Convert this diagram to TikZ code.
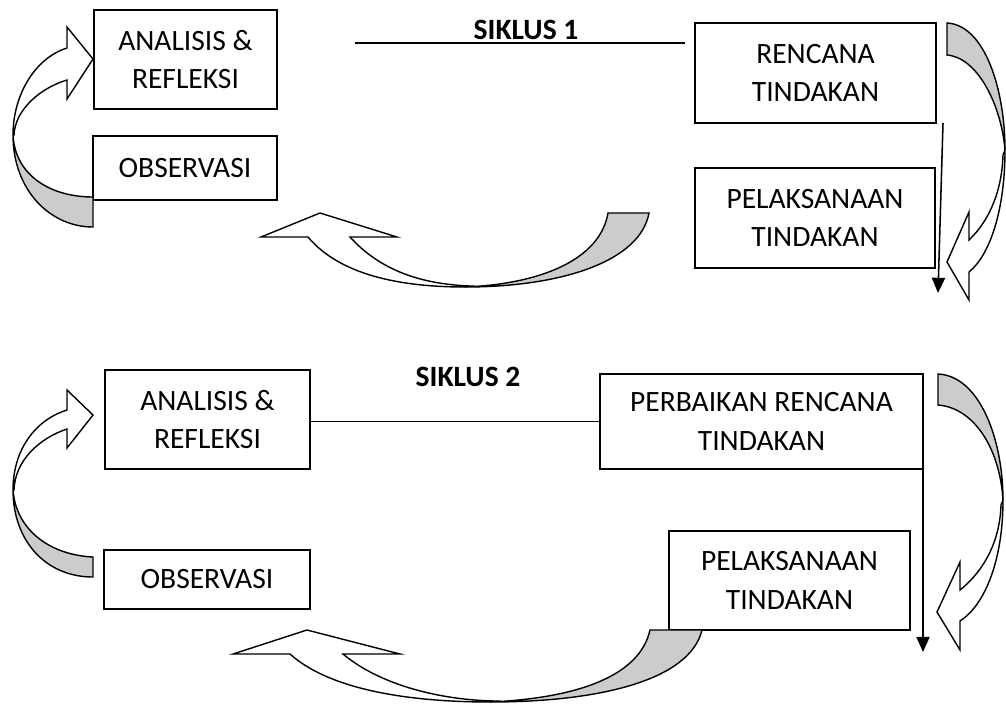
\documentclass[tikz,border=0pt]{standalone}
\usepackage{fontspec}
\setmainfont{Carlito}
\usetikzlibrary{arrows.meta}

\begin{document}
\begin{tikzpicture}[x=0.25mm, y=-0.25mm,
  every node/.style={font=\fontsize{21}{27.6}\selectfont, align=center, inner sep=0pt, outer sep=0pt},
  box/.style 2 args={draw, line width=1.1pt, minimum width=#1*0.25mm, minimum height=#2*0.25mm},
  band/.style={draw, line width=1pt, fill=white, line join=miter},
  back/.style={draw, line width=1pt, fill=gray!40, line join=miter},
  downarrow/.style={line width=1.1pt, -{Triangle[length=3.8mm,width=3.3mm]}}]
\useasboundingbox (0,0) rectangle (1006,704);

\node[box={183}{99}] (an1) at (185.5,59.5) {ANALISIS \&\\REFLEKSI};
\node[box={184}{64}] (ob1) at (185,168) {OBSERVASI};
\node[box={241}{100}] (rt1) at (815.5,73) {RENCANA\\TINDAKAN};
\node[box={240}{100}] (pt1) at (815,218) {PELAKSANAAN\\TINDAKAN};
\node[font=\fontsize{21}{27.6}\selectfont\bfseries, anchor=base] (s1) at (526,39) {SIKLUS 1};

\node[box={205}{99}] (an2) at (207.5,419.5) {ANALISIS \&\\REFLEKSI};
\node[box={206}{59}] (ob2) at (207,579.5) {OBSERVASI};
\node[box={323}{95}] (pr2) at (761.5,421.5) {PERBAIKAN RENCANA\\TINDAKAN};
\node[box={241}{99}] (pt2) at (789.5,580.5) {PELAKSANAAN\\TINDAKAN};
\node[font=\fontsize{21}{27.6}\selectfont\bfseries, anchor=base] (s2) at (468,386) {SIKLUS 2};

\coordinate (l1a) at (355,43);
\coordinate (l1b) at (685,43);
\draw[line width=1.1pt] (l1a) -- (l1b);
\draw[line width=1.1pt] (pr2.west -| an2.east) -- (pr2.west);

\coordinate (e1) at (938,293);
\draw[downarrow] (rt1.south east) ++(7,0) -- (e1);
\coordinate (e2) at (923,652);
\draw[downarrow] (pr2.east) ++(0,-19.5) -- (e2);

% siklus 1
\draw[back] (93,197) -- (93,227) .. controls (50,227) and (13,190) .. (13,135)
  .. controls (15,175) and (50,197) .. (93,197) -- cycle;
\draw[band] (13,135) .. controls (13,95) and (35,58) .. (67,48) -- (67,27) -- (93,59)
  -- (67,99) -- (67,80) .. controls (40,88) and (15,110) .. (14,135) -- cycle;

\draw[back] (947,23) .. controls (985,25) and (1005,90) .. (1005,150)
  .. controls (1002,110) and (980,58) .. (947,55) -- cycle;
\draw[band] (1005,150) .. controls (1005,210) and (990,255) .. (969,272) -- (969,300)
  -- (947,262) -- (969,212) -- (969,240) .. controls (990,220) and (1002,190) .. (1003,155) -- cycle;

\draw[back] (608,213) -- (649,213) .. controls (640,262) and (560,287) .. (465,287)
  .. controls (540,284) and (600,260) .. (608,213) -- cycle;
\draw[band] (465,287) .. controls (400,287) and (340,275) .. (308,237) -- (261,237)
  -- (320,213) -- (397,237) -- (350,237) .. controls (380,270) and (420,284) .. (470,286) -- cycle;

% siklus 2
\draw[back] (93,557) -- (93,577) .. controls (45,577) and (13,540) .. (13,490)
  .. controls (16,530) and (50,555) .. (93,557) -- cycle;
\draw[band] (13,490) .. controls (13,450) and (35,420) .. (67,410) -- (67,390) -- (93,415)
  -- (67,448) -- (67,429) .. controls (40,438) and (15,460) .. (14,490) -- cycle;

\draw[back] (938,374) .. controls (980,376) and (1003,440) .. (1003,500)
  .. controls (1000,450) and (975,408) .. (938,405) -- cycle;
\draw[band] (1003,500) .. controls (1003,560) and (985,605) .. (960,621) -- (960,650)
  -- (937,612) -- (960,562) -- (960,590) .. controls (985,570) and (1000,540) .. (1001,505) -- cycle;

\draw[back] (650,630) -- (702,630) .. controls (690,680) and (600,702) .. (490,702)
  .. controls (580,698) and (640,675) .. (650,630) -- cycle;
\draw[band] (490,702) .. controls (410,702) and (330,690) .. (290,654) -- (233,654)
  -- (307,630) -- (400,654) -- (343,654) .. controls (380,685) and (440,700) .. (495,701) -- cycle;
\end{tikzpicture}
\end{document}
